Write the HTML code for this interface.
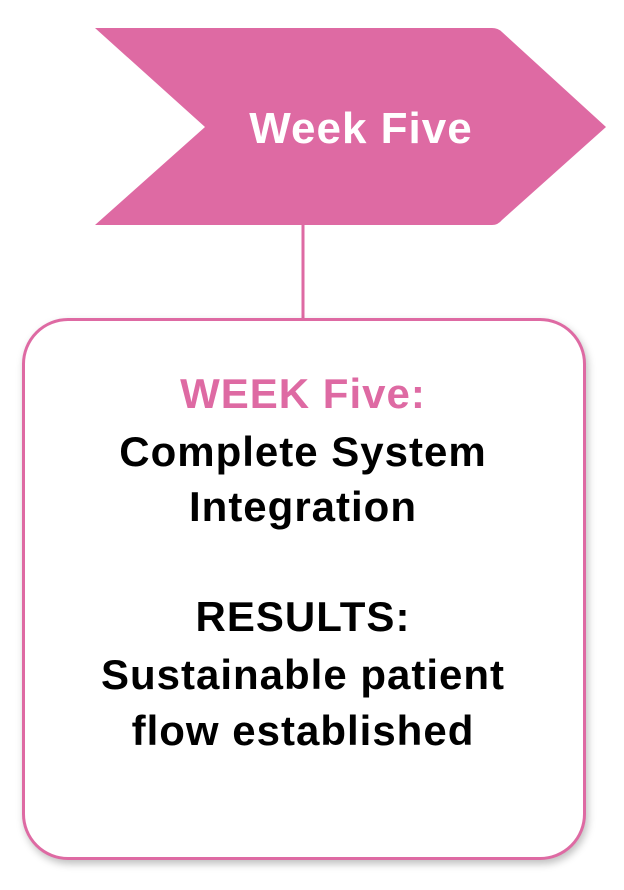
<!DOCTYPE html>
<html><head><meta charset="utf-8"><style>
html,body{margin:0;padding:0;background:#fff;}
body{width:624px;height:890px;position:relative;overflow:hidden;font-family:"Liberation Sans",sans-serif;}
svg{position:absolute;left:0;top:0;}
.box{position:absolute;left:22px;top:318px;width:558px;height:536px;border:3px solid #de6aa3;border-radius:46px;box-shadow:2px 4px 8px rgba(0,0,0,0.25);background:#fff;}
.t{position:absolute;left:0;width:606px;text-align:center;font-weight:bold;font-size:42px;letter-spacing:1px;line-height:55px;color:#000;}
</style></head><body>
<svg width="624" height="890">
<line x1="303" y1="222" x2="303" y2="320" stroke="#de6aa3" stroke-width="3"/>
<path d="M95,28 L492,28 Q498,28 502,32 L606,127 L502,220 Q498,225 492,225 L95,225 L205,127 Z" fill="#de6aa3"/>
<text x="361" y="143" text-anchor="middle" font-family="Liberation Sans" font-weight="bold" font-size="44" letter-spacing="1" fill="#fff">Week Five</text>
</svg>
<div class="box"></div>
<div class="t" style="top:366px;color:#de6aa3;">WEEK Five:</div>
<div class="t" style="top:424px;">Complete System</div>
<div class="t" style="top:479px;">Integration</div>
<div class="t" style="top:589px;">RESULTS:</div>
<div class="t" style="top:647px;">Sustainable patient</div>
<div class="t" style="top:703px;">flow established</div>
</body></html>
